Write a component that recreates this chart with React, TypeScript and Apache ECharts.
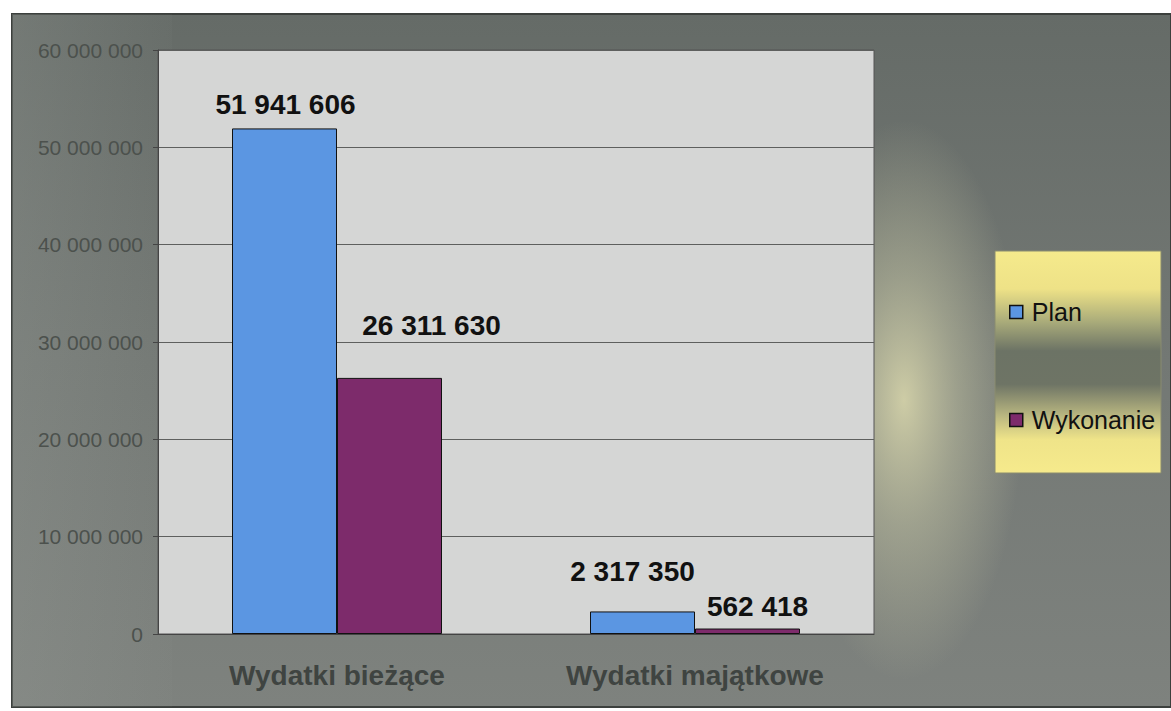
import React, { useEffect, useRef } from "react";
import * as echarts from "echarts";

const categories = ["Wydatki bieżące", "Wydatki majątkowe"];
const seriesNames = ["Plan", "Wykonanie"];
const planValues = [51941606, 2317350];
const wykonanieValues = [26311630, 562418];
const yMin = 0;
const yMax = 60000000;
const yInterval = 10000000;

const fmt = (v: number) => String(Math.round(v)).replace(/\B(?=(\d{3})+(?!\d))/g, " ");

const FONT = "'Liberation Sans', Arial, sans-serif";

export default function App() {
  const ref = useRef<HTMLDivElement>(null);
  useEffect(() => {
    document.body.style.margin = "0";
    if (!ref.current) return;
    const chart = echarts.init(ref.current, undefined, { renderer: "svg" });
    const planOffsets = [[1, -10], [-10, -26]];
    const wykOffsets = [[42, -38], [10, -8]];
    const labelBase = {
      show: true,
      position: "top",
      distance: 0,
      fontSize: 28,
      lineHeight: 28,
      fontWeight: "bold",
      color: "#111",
      fontFamily: FONT,
      formatter: (p: any) => fmt(p.value),
    };
    chart.setOption({
      animation: false,
      backgroundColor: "#ffffff",
      textStyle: { fontFamily: FONT },
      graphic: [
        {
          type: "rect",
          z: -20,
          shape: { x: 12, y: 14, width: 1159, height: 693 },
          style: {
            fill: new echarts.graphic.LinearGradient(0, 0, 0, 1, [
              { offset: 0, color: "#656b67" },
              { offset: 0.5, color: "#737874" },
              { offset: 1, color: "#7e827e" },
            ]),
            stroke: "#3c403d",
            lineWidth: 2,
          },
        },
        {
          type: "rect",
          z: -19,
          shape: { x: 12, y: 14, width: 160, height: 693 },
          style: {
            fill: new echarts.graphic.LinearGradient(0, 0, 1, 0, [
              { offset: 0, color: "rgba(150,155,150,0.3)" },
              { offset: 1, color: "rgba(150,155,150,0.05)" },
            ]),
          },
        },
        {
          type: "rect",
          z: -18,
          shape: { x: 820, y: 120, width: 240, height: 560 },
          style: {
            fill: new echarts.graphic.RadialGradient(0.35, 0.5, 0.5, [
              { offset: 0, color: "rgba(228,225,178,0.8)" },
              { offset: 0.45, color: "rgba(205,205,168,0.45)" },
              { offset: 1, color: "rgba(200,200,165,0)" },
            ]),
          },
        },
        {
          type: "rect",
          z: -17,
          shape: { x: 995, y: 251, width: 166, height: 222 },
          style: {
            fill: new echarts.graphic.LinearGradient(0, 0, 0, 1, [
              { offset: 0, color: "#f5ea8c" },
              { offset: 0.17, color: "#eee287" },
              { offset: 0.32, color: "#a9ab7a" },
              { offset: 0.45, color: "#6c7365" },
              { offset: 0.6, color: "#6e7465" },
              { offset: 0.74, color: "#b8b680" },
              { offset: 0.85, color: "#efe489" },
              { offset: 1, color: "#f6ea8c" },
            ]),
            stroke: "#8a8c70",
            lineWidth: 1,
          },
        },
      ],
      legend: {
        orient: "vertical",
        left: 1004,
        top: 294,
        itemWidth: 13,
        itemHeight: 13,
        itemGap: 82,
        icon: "rect",
        data: seriesNames,
        itemStyle: { borderColor: "#111", borderWidth: 1.5 },
        textStyle: {
          fontSize: 25,
          lineHeight: 26,
          color: "#111",
          fontFamily: FONT,
          padding: [0, 0, 0, 4],
        },
      },
      grid: {
        left: 158,
        top: 50,
        width: 716,
        height: 584,
        show: true,
        backgroundColor: "#d5d6d5",
        borderColor: "#555",
        borderWidth: 1,
      },
      xAxis: {
        type: "category",
        data: categories,
        axisLine: { show: true, lineStyle: { color: "#444", width: 1 } },
        axisTick: { show: false },
        axisLabel: {
          fontSize: 28,
          lineHeight: 30,
          fontWeight: "bold",
          color: "#3f4441",
          fontFamily: FONT,
          margin: 26,
        },
      },
      yAxis: {
        type: "value",
        min: yMin,
        max: yMax,
        interval: yInterval,
        axisLine: { show: true, lineStyle: { color: "#444", width: 1 } },
        axisTick: { show: true, length: 5, lineStyle: { color: "#444" } },
        splitLine: { show: true, lineStyle: { color: "#5e605e", width: 1 } },
        axisLabel: {
          fontSize: 21,
          color: "#4c514d",
          fontFamily: FONT,
          margin: 15,
          formatter: (v: number) => fmt(v),
        },
      },
      series: [
        {
          name: seriesNames[0],
          type: "bar",
          barWidth: 105,
          barGap: "0%",
          itemStyle: { color: "#5b96e2", borderColor: "#111", borderWidth: 1 },
          data: planValues.map((v, i) => ({
            value: v,
            label: { offset: planOffsets[i] },
          })),
          label: labelBase,
        },
        {
          name: seriesNames[1],
          type: "bar",
          barWidth: 105,
          barGap: "0%",
          itemStyle: { color: "#7d2b6b", borderColor: "#111", borderWidth: 1 },
          data: wykonanieValues.map((v, i) => ({
            value: v,
            label: { offset: wykOffsets[i] },
          })),
          label: labelBase,
        },
      ],
    });
    return () => chart.dispose();
  }, []);
  return <div ref={ref} style={{ width: 1171, height: 711 }} />;
}
